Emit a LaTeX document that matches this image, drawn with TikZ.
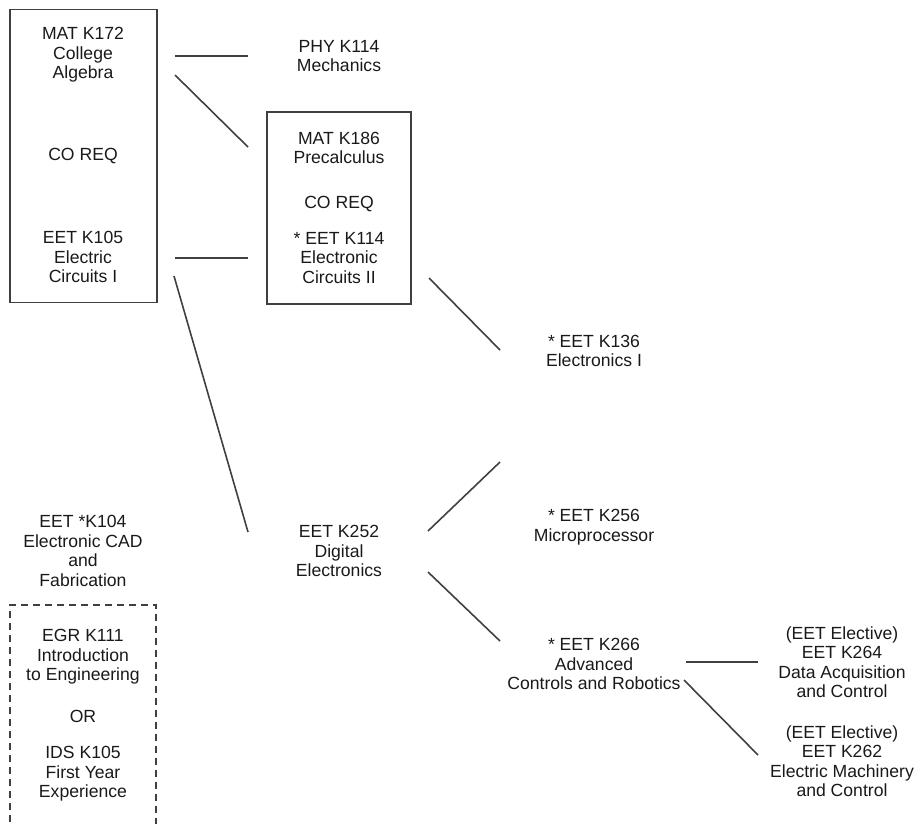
\documentclass[tikz,border=0pt]{standalone}
\usepackage{fontspec}
\setmainfont{Liberation Sans}
\begin{document}
\begin{tikzpicture}[x=1pt,y=-1pt,
  lbl/.style={align=center, inner sep=0pt, font=\fontsize{17.6}{19.5}\selectfont, text=black!90},
  link/.style={draw=black!75, line width=1.6pt},
  frame/.style={draw=black!75, line width=1.8pt, inner sep=0pt},
  dframe/.style={draw=black!75, line width=1.6pt, dash pattern=on 7pt off 5pt, inner sep=0pt}]
\useasboundingbox (0,0) rectangle (921,823);
% boxes
\node[frame, minimum width=147pt, minimum height=293pt] (box1) at (83.5,156) {};
\node[frame, minimum width=144pt, minimum height=192pt] (box2) at (339,208) {};
\node[dframe, minimum width=146pt, minimum height=230pt] (box3) at (83,720) {};
% texts
\node[lbl] (m172) at (83,55) {MAT K172\\College\\Algebra};
\node[lbl] (co1) at (83,156) {CO REQ};
\node[lbl] (e105) at (83,257) {EET K105\\Electric\\Circuits I};
\node[lbl] (phy) at (339,56) {PHY K114\\Mechanics};
\node[lbl] (m186) at (339,148) {MAT K186\\Precalculus};
\node[lbl] (co2) at (339,204) {CO REQ};
\node[lbl] (e114) at (339,258) {* EET K114\\Electronic\\Circuits II};
\node[lbl] (e136) at (594,351) {* EET K136\\Electronics I};
\node[lbl] (e256) at (594,527) {* EET K256\\Microprocessor};
\node[lbl] (e252) at (339,551) {EET K252\\Digital\\Electronics};
\node[lbl] (e104) at (83,551) {EET *K104\\Electronic CAD\\and\\Fabrication};
\node[lbl] (egr) at (83,657) {EGR K111\\Introduction\\to Engineering};
\node[lbl] (or) at (83,716) {OR};
\node[lbl] (ids) at (83,774) {IDS K105\\First Year\\Experience};
\node[lbl] (e266) at (594,664) {* EET K266\\Advanced\\Controls and Robotics};
\node[lbl] (e264) at (842,662) {(EET Elective)\\EET K264\\Data Acquisition\\and Control};
\node[lbl] (e262) at (842,761) {(EET Elective)\\EET K262\\Electric Machinery\\and Control};
% connector end points
\coordinate (a1) at (175,56);  \coordinate (a2) at (248,56);
\coordinate (b1) at (175,75);  \coordinate (b2) at (248,147);
\coordinate (c1) at (175,258); \coordinate (c2) at (248,258);
\coordinate (d1) at (174,276); \coordinate (d2) at (248,532);
\coordinate (f1) at (429,278); \coordinate (f2) at (500,350);
\coordinate (g1) at (428,531); \coordinate (g2) at (500,462);
\coordinate (h1) at (428,572); \coordinate (h2) at (500,641);
\coordinate (i1) at (686,662); \coordinate (i2) at (758,662);
\coordinate (j1) at (684,680); \coordinate (j2) at (758,755);
\draw[link] (a1) -- (a2);
\draw[link] (b1) -- (b2);
\draw[link] (c1) -- (c2);
\draw[link] (d1) -- (d2);
\draw[link] (f1) -- (f2);
\draw[link] (g1) -- (g2);
\draw[link] (h1) -- (h2);
\draw[link] (i1) -- (i2);
\draw[link] (j1) -- (j2);
\end{tikzpicture}
\end{document}
